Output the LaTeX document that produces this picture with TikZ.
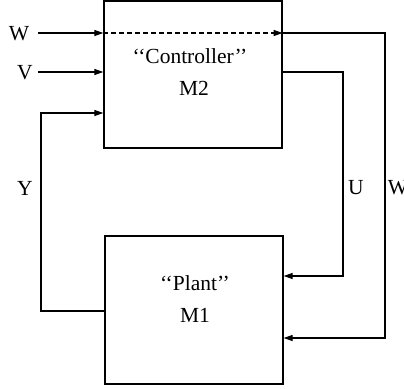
\documentclass[tikz,border=0pt]{standalone}
\usepackage{fontspec}
\setmainfont{Liberation Serif}
\usetikzlibrary{arrows.meta,calc}
\begin{document}
\begin{tikzpicture}[x=1pt,y=1pt,
  every node/.style={font=\fontsize{21.5}{26}\selectfont},
  blockbox/.style={draw,line width=1.3pt,minimum width=178pt,inner sep=0pt},
  wire/.style={line width=1.2pt},
  arr/.style={wire,-{Triangle[length=9pt,width=6pt]}},
  lab/.style={inner sep=0pt}]
\useasboundingbox (0,0) rectangle (404,-388);
\fill[white] (0,0) rectangle (404,-388);
% blocks
\node[blockbox,minimum height=147pt] (ctrl) at (193,-74.5) {};
\node[blockbox,minimum height=148pt] (plant) at (194,-310) {};
\node[lab,anchor=base] (ctxt) at (190,-63) {‘‘Controller’’};
\node[lab,anchor=base] (m2) at (194,-95) {M2};
\node[lab,anchor=base] (ptxt) at (195,-290) {‘‘Plant’’};
\node[lab,anchor=base] (m1) at (195,-322) {M1};
% coordinates
\coordinate (win) at (38,-33);
\coordinate (vin) at (38,-72);
\coordinate (wr) at (385,-33);
\coordinate (wrb) at (385,-338);
\coordinate (ur) at (343,-72);
\coordinate (urb) at (343,-276);
\coordinate (yl) at (41,-311);
\coordinate (ylt) at (41,-113);
% labels
\node[lab] (wlab) at (19,-34) {W};
\node[lab] (vlab) at (25,-73) {V};
\node[lab] (ylab) at (25,-188) {Y};
\node[lab] (ulab) at (356,-188) {U};
\node[lab] (w2lab) at (398,-188) {W};
% inputs
\draw[arr] (win) -- (win -| ctrl.west);
\draw[arr] (vin) -- (vin -| ctrl.west);
\draw[arr,dash pattern=on 5pt off 3pt] (win -| ctrl.west) -- (win -| ctrl.east);
% W through to plant
\draw[arr] (win -| ctrl.east) -- (wr) -- (wrb) -- (wrb -| plant.east);
% U
\draw[arr] (vin -| ctrl.east) -- (ur) -- (urb) -- (urb -| plant.east);
% Y
\draw[arr] (yl -| plant.west) -- (yl) -- (ylt) -- (ylt -| ctrl.west);
\end{tikzpicture}
\end{document}
